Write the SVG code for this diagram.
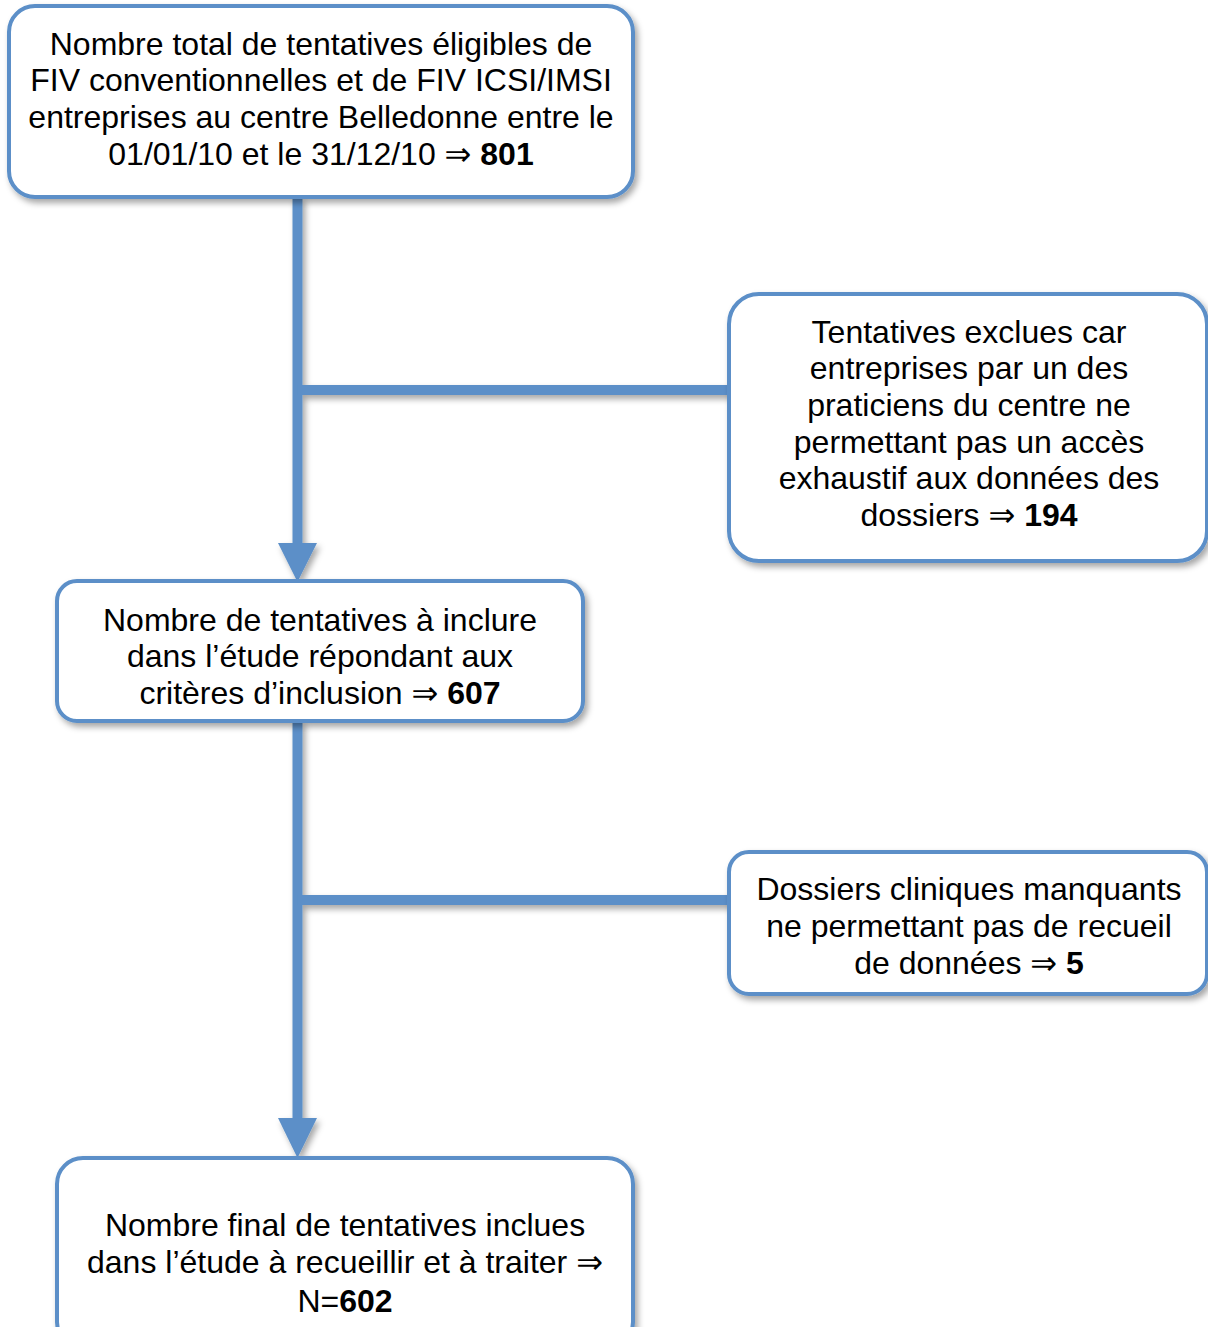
<svg xmlns="http://www.w3.org/2000/svg" width="1208" height="1327" viewBox="0 0 1208 1327">
<style>
.box{fill:#fff;stroke:#5B8FC8;stroke-width:4;filter:url(#sh)}
.ln{stroke:#5B8FC8;stroke-width:10;fill:none}
.ah{fill:#5B8FC8}
text{font-family:"Liberation Sans",Arial,"DejaVu Sans",sans-serif;font-size:32px;fill:#000;text-anchor:middle}
.b{font-weight:bold}
</style>
<defs>
<filter id="sh" x="-10%" y="-10%" width="125%" height="130%">
<feDropShadow dx="3" dy="4" stdDeviation="3" flood-color="#000" flood-opacity="0.35"/>
</filter>
</defs>
<rect width="1208" height="1327" fill="#fff"/>
<g id="connectors" filter="url(#sh)">
<line class="ln" x1="297.5" y1="197" x2="297.5" y2="545"/>
<polygon class="ah" points="278,543 317,543 297.5,582"/>
<line class="ln" x1="297.5" y1="390" x2="730" y2="390"/>
<line class="ln" x1="297.5" y1="721" x2="297.5" y2="1120"/>
<polygon class="ah" points="278,1118 317,1118 297.5,1158"/>
<line class="ln" x1="297.5" y1="900" x2="730" y2="900"/>
</g>
<g id="n1">
<rect class="box" x="9" y="6" width="624" height="191" rx="26"/>
<text x="321" y="55">Nombre total de tentatives éligibles de</text>
<text x="321" y="91">FIV conventionnelles et de FIV ICSI/IMSI</text>
<text x="321" y="128">entreprises au centre Belledonne entre le</text>
<text x="321" y="165">01/01/10 et le 31/12/10 ⇒ <tspan class="b">801</tspan></text>
</g>
<g id="n2">
<rect class="box" x="729" y="294" width="478" height="267" rx="30"/>
<text x="969" y="343">Tentatives exclues car</text>
<text x="969" y="379">entreprises par un des</text>
<text x="969" y="416">praticiens du centre ne</text>
<text x="969" y="453">permettant pas un accès</text>
<text x="969" y="489">exhaustif aux données des</text>
<text x="969" y="526">dossiers ⇒ <tspan class="b">194</tspan></text>
</g>
<g id="n3">
<rect class="box" x="57" y="581" width="526" height="140" rx="20"/>
<text x="320" y="631">Nombre de tentatives à inclure</text>
<text x="320" y="667">dans l’étude répondant aux</text>
<text x="320" y="704">critères d’inclusion ⇒ <tspan class="b">607</tspan></text>
</g>
<g id="n4">
<rect class="box" x="729" y="852" width="478" height="142" rx="20"/>
<text x="969" y="900">Dossiers cliniques manquants</text>
<text x="969" y="937">ne permettant pas de recueil</text>
<text x="969" y="974">de données ⇒ <tspan class="b">5</tspan></text>
</g>
<g id="n5">
<rect class="box" x="57" y="1158" width="576" height="190" rx="26"/>
<text x="345" y="1236">Nombre final de tentatives inclues</text>
<text x="345" y="1273">dans l’étude à recueillir et à traiter ⇒</text>
<text x="345" y="1312">N=<tspan class="b">602</tspan></text>
</g>
</svg>
